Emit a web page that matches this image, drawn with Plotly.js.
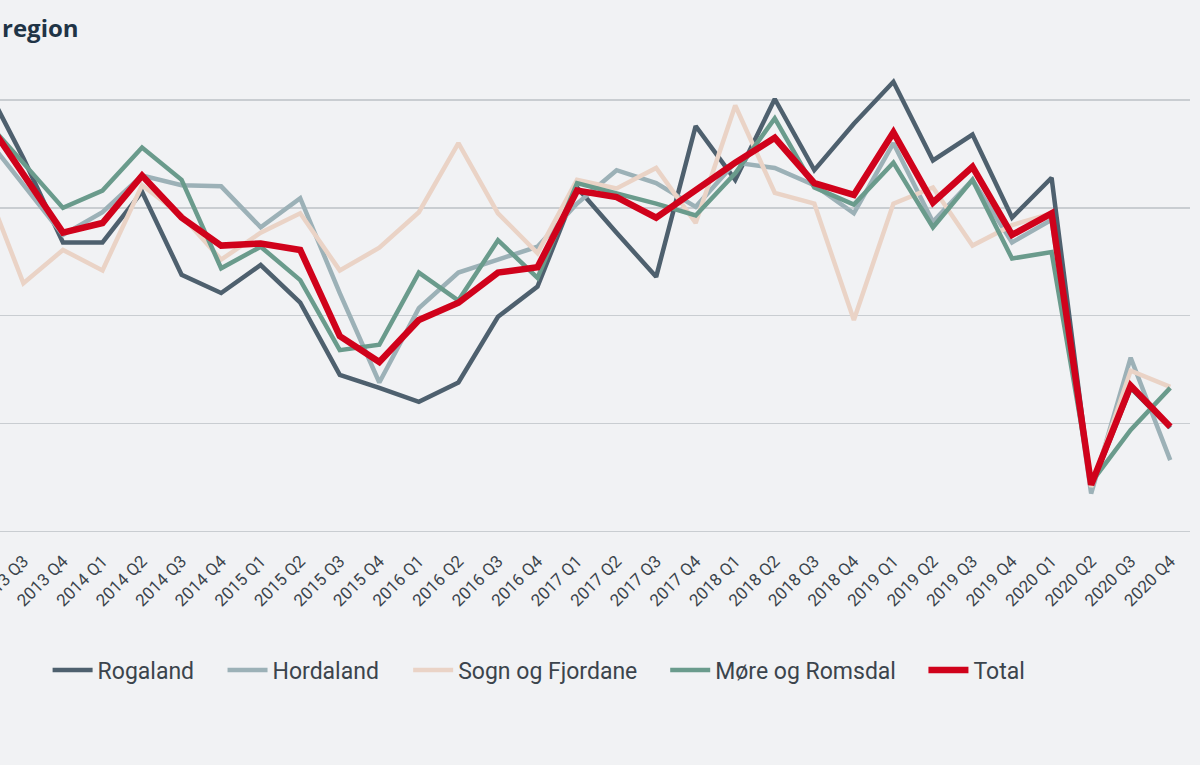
<!DOCTYPE html>
<html>
<head>
<meta charset="utf-8">
<script src="https://cdn.plot.ly/plotly-3.0.1.min.js"></script>
<style>
  html, body { margin: 0; padding: 0; background: #f1f2f4; }
  #chart { width: 1200px; height: 765px; }
</style>
</head>
<body>
<div id="chart"></div>
<script>
const quarters = [
  "2013 Q2", "2013 Q3", "2013 Q4",
  "2014 Q1", "2014 Q2", "2014 Q3", "2014 Q4",
  "2015 Q1", "2015 Q2", "2015 Q3", "2015 Q4",
  "2016 Q1", "2016 Q2", "2016 Q3", "2016 Q4",
  "2017 Q1", "2017 Q2", "2017 Q3", "2017 Q4",
  "2018 Q1", "2018 Q2", "2018 Q3", "2018 Q4",
  "2019 Q1", "2019 Q2", "2019 Q3", "2019 Q4",
  "2020 Q1", "2020 Q2", "2020 Q3", "2020 Q4"
];

const rogaland = [41.7, 34.6, 26.8, 26.8, 31.5, 23.8, 22.1, 24.7, 21.2, 14.5, 13.3,
  12.0, 13.8, 19.9, 22.7, 31.9, 27.7, 23.6, 37.6, 32.6, 40.1, 33.5, 37.8,
  41.7, 34.4, 36.8, 29.1, 32.8, 4.1, 13.3, 9.6];

const hordaland = [36.8, 32.1, 27.5, 29.6, 33.0, 32.1, 32.0, 28.2, 30.9, 22.1, 13.8,
  20.7, 24.0, 25.2, 26.4, 30.4, 33.5, 32.3, 30.1, 34.2, 33.7, 32.1, 29.5,
  36.0, 28.7, 32.6, 26.8, 28.9, 3.5, 16.1, 6.6];

const sognOgFjordane = [32.5, 23.0, 26.1, 24.2, 32.1, 29.3, 25.2, 27.7, 29.5, 24.2, 26.3,
  29.6, 36.0, 29.5, 25.8, 32.6, 31.8, 33.7, 28.6, 39.5, 31.4, 30.4, 19.6,
  30.4, 31.9, 26.5, 28.4, 29.5, 4.1, 14.9, 13.4];

const moreOgRomsdal = [38.3, 34.2, 30.0, 31.6, 35.6, 32.6, 24.4, 26.4, 23.3, 16.8, 17.3,
  24.0, 21.4, 27.0, 23.5, 32.3, 31.4, 30.4, 29.3, 33.2, 38.3, 31.9, 30.3,
  34.2, 28.2, 32.6, 25.3, 25.9, 4.5, 9.4, 13.3];

const total = [38.5, 33.0, 27.7, 28.6, 33.0, 29.1, 26.5, 26.7, 26.1, 18.1, 15.7,
  19.6, 21.2, 24.0, 24.5, 31.6, 31.0, 29.1, 31.7, 34.2, 36.5, 32.3, 31.2,
  37.0, 30.5, 33.8, 27.5, 29.5, 4.3, 13.5, 9.7];

const seriesNames = ["Rogaland", "Hordaland", "Sogn og Fjordane", "Møre og Romsdal", "Total"];
const seriesValues = [rogaland, hordaland, sognOgFjordane, moreOgRomsdal, total];
const seriesColors = ["#4e606e", "#9cb1b7", "#ead3c6", "#6a9b8c", "#d0021b"];
const seriesWidths = [4.5, 4.5, 4.5, 4.5, 6.5];
const legendIds = ["legend", "legend2", "legend3", "legend4", "legend5"];
// left edge of each legend entry, as a fraction of the plot width
const legendX = [0.040, 0.187, 0.343, 0.559, 0.776];

const traces = seriesNames.map((name, i) => ({
  type: "scatter",
  mode: "lines",
  name: name,
  legend: legendIds[i],
  x: quarters,
  y: seriesValues[i],
  line: { color: seriesColors[i], width: seriesWidths[i] },
  hoverinfo: "x+y+name"
}));

const layout = {
  width: 1200,
  height: 765,
  paper_bgcolor: "#f1f2f4",
  plot_bgcolor: "#f1f2f4",
  margin: { l: 0, r: 10, t: 57, b: 223, pad: 0 },
  font: { family: "Roboto, 'Liberation Sans', sans-serif", color: "#3b444c" },
  showlegend: true,
  xaxis: {
    type: "category",
    categoryorder: "array",
    categoryarray: quarters,
    range: [0.408, 30.5],
    tickangle: -45,
    tickfont: { size: 17, color: "#3b444c" },
    ticklabelstandoff: 5,
    showgrid: false,
    zeroline: false,
    showline: false,
    ticks: "",
    automargin: false
  },
  yaxis: {
    range: [-1, 44],
    tick0: 0,
    dtick: 10,
    showticklabels: false,
    showgrid: true,
    gridcolor: "#c9cdd1",
    gridwidth: 1.3,
    zeroline: false,
    showline: false,
    ticks: "",
    automargin: false
  },
  annotations: [{
    xref: "paper", yref: "paper",
    x: 0, y: 1.06,
    xanchor: "left", yanchor: "middle",
    text: "<b>region</b>",
    showarrow: false,
    font: { family: "'Open Sans', Lato, sans-serif", size: 24, color: "#1f3446" }
  }]
};

legendIds.forEach((id, i) => {
  layout[id] = {
    orientation: "h",
    x: legendX[i],
    xanchor: "left",
    y: -0.264,
    yanchor: "middle",
    itemwidth: 40,
    font: { size: 23, color: "#3b444c" },
    bgcolor: "rgba(0,0,0,0)"
  };
});

Plotly.newPlot("chart", traces, layout, { displayModeBar: false, staticPlot: true });
</script>
</body>
</html>
